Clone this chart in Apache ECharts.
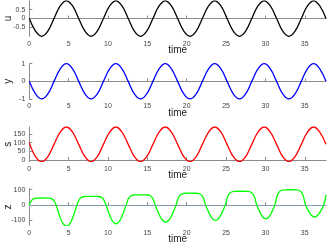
<!DOCTYPE html>
<html><head><meta charset="utf-8">
<script src="https://cdn.jsdelivr.net/npm/echarts@6/dist/echarts.min.js"></script>
<style>html,body{margin:0;padding:0;background:#fff}#c{width:327px;height:247px}</style>
</head><body><div id="c"></div>
<script>
// time samples for u, y, s
var T = [0,0.79,1.57,2.36,3.14,3.93,4.71,5.50,6.28,7.07,7.85,8.64,9.42,10.21,11.00,11.78,12.57,13.35,14.14,14.92,15.71,16.49,17.28,18.06,18.85,19.63,20.42,21.21,21.99,22.78,23.56,24.35,25.13,25.92,26.70,27.49,28.27,29.06,29.85,30.63,31.42,32.20,32.99,33.77,34.56,35.34,36.13,36.91,37.70];
var U = [0,-0.71,-1,-0.71,0,0.71,1,0.71, 0,-0.71,-1,-0.71,0,0.71,1,0.71, 0,-0.71,-1,-0.71,0,0.71,1,0.71, 0,-0.71,-1,-0.71,0,0.71,1,0.71, 0,-0.71,-1,-0.71,0,0.71,1,0.71, 0,-0.71,-1,-0.71,0,0.71,1,0.71, 0];
var Y = [0,-0.71,-1,-0.71,0,0.71,1,0.71, 0,-0.71,-1,-0.71,0,0.71,1,0.71, 0,-0.71,-1,-0.71,0,0.71,1,0.71, 0,-0.71,-1,-0.71,0,0.71,1,0.71, 0,-0.71,-1,-0.71,0,0.71,1,0.71, 0,-0.71,-1,-0.71,0,0.71,1,0.71, 0];
var S = [100,19,-10,19,90,161,190,161, 90,19,-10,19,90,161,190,161, 90,19,-10,19,90,161,190,161, 90,19,-10,19,90,161,190,161, 90,19,-10,19,90,161,190,161, 90,19,-10,19,90,161,190,161, 90];
// z samples
var ZT = [0,0.27,0.58,1.02,1.70,2.38,2.82,3.13,
 3.40,3.85,4.27,4.73,5.18,5.60,
 6.05,6.35,6.68,7.16,7.90,8.64,9.12,9.45,
 9.75,10.18,10.59,11.03,11.46,11.87,
 12.30,12.60,12.93,13.41,14.15,14.89,15.37,15.70,
 16.00,16.45,16.87,17.33,17.78,18.20,
 18.65,18.95,19.29,19.78,20.53,21.28,21.76,22.10,
 22.40,22.83,23.23,23.65,24.08,24.48,
 24.90,25.22,25.58,26.10,26.90,27.70,28.22,28.58,
 28.90,29.29,29.66,30.05,30.44,30.81,
 31.20,31.51,31.86,32.37,33.15,33.93,34.44,34.79,
 35.10,35.49,35.86,36.25,36.64,37.01,
 37.40,37.70];
var ZV = [0,29,42,45,46,45,42,29,
 0,-70,-120,-138,-119,-70,
 0,36,52,56,57,56,52,36,
 0,-62,-106,-122,-105,-62,
 0,42,61,66,67,66,61,42,
 0,-56,-96,-111,-96,-56,
 0,49,71,77,78,77,71,49,
 0,-51,-87,-100,-86,-51,
 0,57,82,89,90,89,82,57,
 0,-46,-78,-90,-78,-46,
 0,63,91,99,100,99,91,63,
 0,-40,-68,-78,-67,-40,
 0,67];
var xTicks = [0,5,10,15,20,25,30,35];
var uTicks = [-0.5,0,0.5];
var yTicks = [-1,0,1];
var sTicks = [0,50,100,150];
var zTicks = [-100,0,100];
var names = ['u','y','s','z'];

function zip(a,b){return a.map(function(t,i){return [t,b[i]];});}
var FONT = 'Liberation Sans';
var axisCol = '#8c8c8c';
var grids = [
  {left:29.3, right:1, top:0.8, height:35.5, outerBoundsMode:'none', containLabel:false},
  {left:29.3, right:1, top:63.7, height:35.3, outerBoundsMode:'none', containLabel:false},
  {left:29.3, right:1, top:127, height:34.7, outerBoundsMode:'none', containLabel:false},
  {left:29.3, right:1, top:188.5, height:36.8, outerBoundsMode:'none', containLabel:false}
];
var yRanges = [[-1,1],[-1,1],[-10,190],[-132,108]];
var yT = [uTicks,yTicks,sTicks,zTicks];
var xAxes = [], yAxes = [];
for (var i=0;i<4;i++){
  xAxes.push({type:'value', gridIndex:i, min:0, max:37.7, name:'time', nameLocation:'middle', nameGap:9, nameMoveOverlap:false,
    nameTextStyle:{fontFamily:FONT, fontSize:10, color:'#222'},
    axisLine:{lineStyle:{color:axisCol, width:1}},
    axisTick:{inside:true, length:3, lineStyle:{color:axisCol}, customValues:xTicks},
    axisLabel:{fontFamily:FONT, fontSize:7, color:'#444', margin:4, customValues:xTicks},
    splitLine:{show:false}});
  yAxes.push({type:'value', gridIndex:i, min:yRanges[i][0], max:yRanges[i][1], name:names[i], nameLocation:'middle', nameGap:16, nameRotate:90, nameMoveOverlap:false,
    nameTextStyle:{fontFamily:FONT, fontSize:10, color:'#222'},
    axisLine:{show:true, lineStyle:{color:axisCol, width:1}},
    axisTick:{show:true, inside:true, length:3, lineStyle:{color:axisCol}, customValues:yT[i]},
    axisLabel:{fontFamily:FONT, fontSize:7, color:'#444', margin:4, customValues:yT[i]},
    splitLine:{show:false}});
}
var base = {type:'line', showSymbol:false, smooth:0.4, animation:false};
var series = [
  Object.assign({}, base, {xAxisIndex:0, yAxisIndex:0, data:zip(T,U), lineStyle:{color:'#000000', width:1.3}}),
  Object.assign({}, base, {xAxisIndex:1, yAxisIndex:1, data:zip(T,Y), lineStyle:{color:'#0000ff', width:1.3}}),
  Object.assign({}, base, {xAxisIndex:2, yAxisIndex:2, data:zip(T,S), lineStyle:{color:'#ff0000', width:1.3}}),
  Object.assign({}, base, {xAxisIndex:3, yAxisIndex:3, data:zip(ZT,ZV), lineStyle:{color:'#00ff00', width:1.3},
    markLine:{silent:true, symbol:'none', label:{show:false}, animation:false,
      lineStyle:{type:'dotted', color:'#7fa7c9', width:1}, data:[{yAxis:0}]}})
];
var chart = echarts.init(document.getElementById('c'), null, {renderer:'canvas'});
chart.setOption({animation:false, grid:grids, xAxis:xAxes, yAxis:yAxes, series:series});
</script></body></html>
